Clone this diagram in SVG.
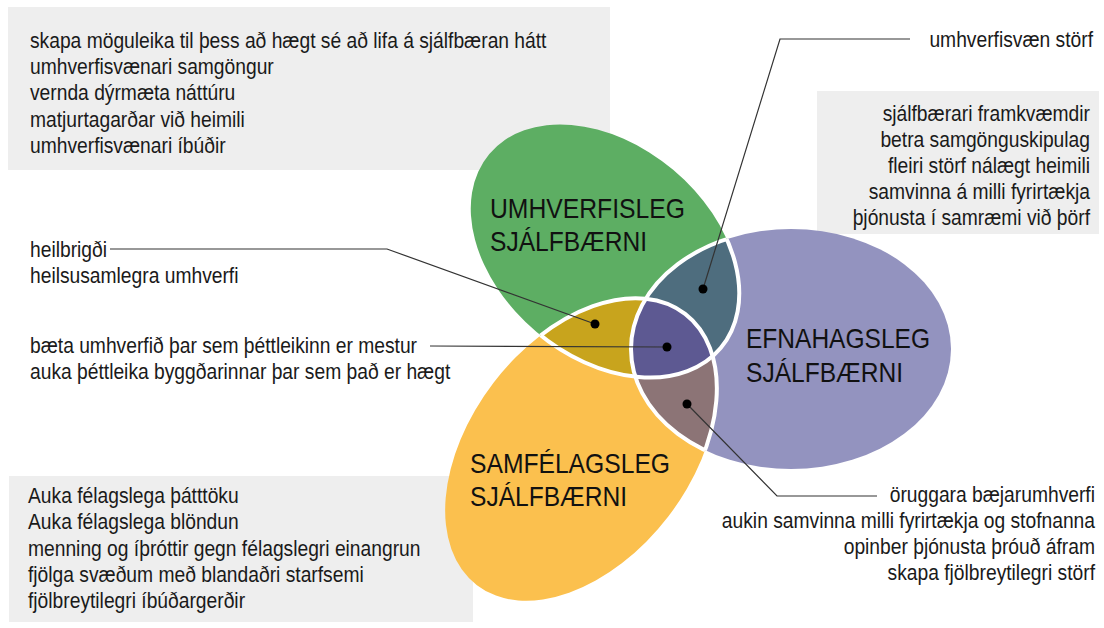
<svg xmlns="http://www.w3.org/2000/svg" width="1104" height="628" viewBox="0 0 1104 628">
<style>
.box{fill:#EEEEEE}
.t{font-family:"Liberation Sans",Arial,sans-serif;font-size:22px;fill:#1a1a1a}
.r{text-anchor:end}
.title{font-family:"Liberation Sans",Arial,sans-serif;font-size:28.5px;fill:#111}
.ln{fill:none;stroke:#333;stroke-width:1.2}
.dot{fill:#000}
.edge{fill:none;stroke:#fff;stroke-width:4}
</style>
<defs>
<ellipse id="shG" cx="605" cy="251" rx="151" ry="106" transform="rotate(40 605 251)"/>
<ellipse id="shO" cx="581" cy="449.5" rx="171" ry="110" transform="rotate(-52.5 581 449.5)"/>
<ellipse id="shP" cx="791" cy="349" rx="160" ry="120"/>
<clipPath id="cG"><use href="#shG"/></clipPath>
<clipPath id="cO"><use href="#shO"/></clipPath>
<clipPath id="cOP"><use href="#shO"/><use href="#shP"/></clipPath>
<clipPath id="cGP"><use href="#shG"/><use href="#shP"/></clipPath>
<clipPath id="cGO"><use href="#shG"/><use href="#shO"/></clipPath>
</defs>

<g id="box-environment"><rect class="box" x="8" y="7" width="602" height="163"/></g>
<g id="box-economic"><rect class="box" x="817" y="91" width="282" height="143"/></g>
<g id="box-social"><rect class="box" x="9" y="476" width="464" height="146"/></g>

<g id="set-environmental"><use href="#shG" fill="#5DAE63"/></g>
<g id="set-economic"><use href="#shP" fill="#9393BF"/></g>
<g id="set-social"><use href="#shO" fill="#FBC04E"/></g>

<g id="overlap-env-social" clip-path="url(#cG)"><use href="#shO" fill="#C8A41D"/></g>
<g id="overlap-env-econ" clip-path="url(#cG)"><use href="#shP" fill="#4E6D7E"/></g>
<g id="overlap-social-econ" clip-path="url(#cO)"><use href="#shP" fill="#8C7476"/></g>
<g id="overlap-center" clip-path="url(#cG)"><g clip-path="url(#cO)"><use href="#shP" fill="#5D5992"/></g></g>

<g id="edges">
<g clip-path="url(#cOP)"><use href="#shG" class="edge"/></g>
<g clip-path="url(#cGO)"><use href="#shP" class="edge"/></g>
<g clip-path="url(#cGP)"><use href="#shO" class="edge"/></g>
</g>

<g id="titles">
<text class="title" x="490" y="218" textLength="195" lengthAdjust="spacingAndGlyphs">UMHVERFISLEG</text>
<text class="title" x="490" y="251" textLength="157" lengthAdjust="spacingAndGlyphs">SJÁLFBÆRNI</text>
<text class="title" x="746" y="348" textLength="184" lengthAdjust="spacingAndGlyphs">EFNAHAGSLEG</text>
<text class="title" x="746" y="382" textLength="157" lengthAdjust="spacingAndGlyphs">SJÁLFBÆRNI</text>
<text class="title" x="470" y="473" textLength="200" lengthAdjust="spacingAndGlyphs">SAMFÉLAGSLEG</text>
<text class="title" x="470" y="506" textLength="157" lengthAdjust="spacingAndGlyphs">SJÁLFBÆRNI</text>
</g>

<g id="connectors">
<polyline class="ln" points="910,39 780,39 703,289"/>
<polyline class="ln" points="110,249 387,249 595,324"/>
<polyline class="ln" points="430,346 667,347"/>
<polyline class="ln" points="687,404 777,496 877,496"/>
<circle class="dot" cx="703" cy="289" r="4.5"/>
<circle class="dot" cx="595" cy="324" r="4.5"/>
<circle class="dot" cx="667" cy="347" r="4.5"/>
<circle class="dot" cx="687" cy="404" r="4.5"/>
</g>

<g id="text-environment" transform="translate(30 0) scale(0.875 1) translate(-30 0)">
<text class="t" x="30" y="48">skapa möguleika til þess að hægt sé að lifa á sjálfbæran hátt</text>
<text class="t" x="30" y="74">umhverfisvænari samgöngur</text>
<text class="t" x="30" y="100">vernda dýrmæta náttúru</text>
<text class="t" x="30" y="127">matjurtagarðar við heimili</text>
<text class="t" x="30" y="153">umhverfisvænari íbúðir</text>
</g>
<g id="text-env-econ" transform="translate(1093 0) scale(0.875 1) translate(-1093 0)"><text class="t r" x="1093" y="47">umhverfisvæn störf</text></g>
<g id="text-economic" transform="translate(1090 0) scale(0.875 1) translate(-1090 0)">
<text class="t r" x="1090" y="121">sjálfbærari framkvæmdir</text>
<text class="t r" x="1090" y="147">betra samgönguskipulag</text>
<text class="t r" x="1090" y="173">fleiri störf nálægt heimili</text>
<text class="t r" x="1090" y="199">samvinna á milli fyrirtækja</text>
<text class="t r" x="1090" y="225">þjónusta í samræmi við þörf</text>
</g>
<g id="text-env-social" transform="translate(30 0) scale(0.875 1) translate(-30 0)">
<text class="t" x="30" y="257">heilbrigði</text>
<text class="t" x="30" y="283">heilsusamlegra umhverfi</text>
</g>
<g id="text-center" transform="translate(30 0) scale(0.875 1) translate(-30 0)">
<text class="t" x="30" y="353">bæta umhverfið þar sem þéttleikinn er mestur</text>
<text class="t" x="30" y="379">auka þéttleika byggðarinnar þar sem það er hægt</text>
</g>
<g id="text-social" transform="translate(28 0) scale(0.875 1) translate(-28 0)">
<text class="t" x="28" y="503">Auka félagslega þátttöku</text>
<text class="t" x="28" y="529">Auka félagslega blöndun</text>
<text class="t" x="28" y="556">menning og íþróttir gegn félagslegri einangrun</text>
<text class="t" x="28" y="582">fjölga svæðum með blandaðri starfsemi</text>
<text class="t" x="28" y="608">fjölbreytilegri íbúðargerðir</text>
</g>
<g id="text-social-econ" transform="translate(1095 0) scale(0.875 1) translate(-1095 0)">
<text class="t r" x="1095" y="502">öruggara bæjarumhverfi</text>
<text class="t r" x="1095" y="528">aukin samvinna milli fyrirtækja og stofnanna</text>
<text class="t r" x="1095" y="554">opinber þjónusta þróuð áfram</text>
<text class="t r" x="1095" y="580">skapa fjölbreytilegri störf</text>
</g>
</svg>
